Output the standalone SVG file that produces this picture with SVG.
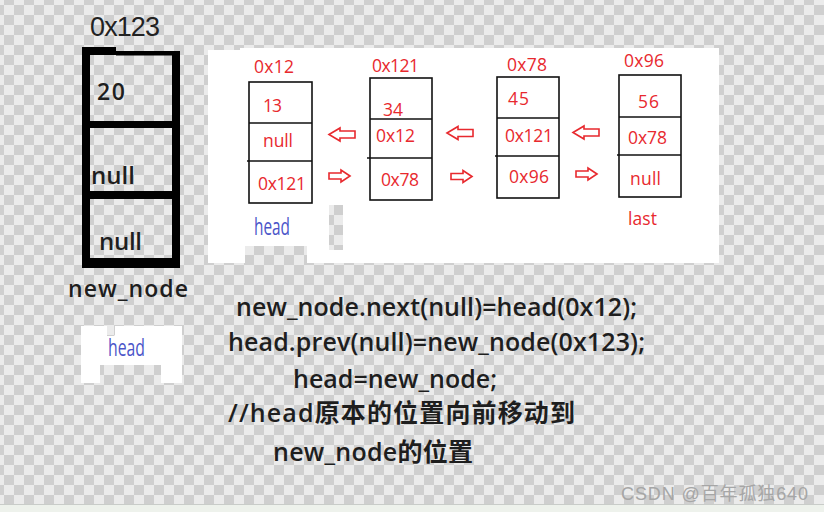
<svg xmlns="http://www.w3.org/2000/svg" width="824" height="512" viewBox="0 0 824 512">
<defs>
<pattern id="checker" x="4" y="5" width="20" height="20" patternUnits="userSpaceOnUse">
<rect width="20" height="20" fill="#ebebeb"/>
<rect x="10" y="0" width="10" height="10" fill="#cfcfcf"/>
<rect x="0" y="10" width="10" height="10" fill="#cfcfcf"/>
</pattern>
<path id="arrL" d="M0,0 L11,-6.5 L11,-3.5 L26,-3.5 L26,3.5 L11,3.5 L11,6.5 Z"/>
<path id="arrR" d="M0,0 L-9,-6 L-9,-3 L-21,-3 L-21,3 L-9,3 L-9,6 Z"/>
</defs>
<style>
.blk{fill:#000}
.box{fill:#fff;stroke:#111;stroke-width:1.6}
.div{stroke:#111;stroke-width:1.6}
.red{fill:#e8292e;font-family:"Open Sans","Noto Sans",sans-serif;font-size:17.5px}
.blue{fill:#4b55c9;font-family:"Open Sans","Noto Sans",sans-serif;font-size:23px}
.dark{fill:#1e1e1e;font-family:"Open Sans","Noto Sans","Noto Sans CJK SC",sans-serif;font-weight:600}
.addr{fill:#222;font-family:"Liberation Sans",sans-serif;font-size:27px}
.code{fill:#1e1e1e;font-family:"Open Sans","Noto Sans CJK SC",sans-serif;font-weight:600;font-size:25px}
.arr{fill:#fff;stroke:#e8292e;stroke-width:1.6;stroke-linejoin:miter}
.wm{fill:#a6a6a6;font-family:"Liberation Sans","Noto Sans CJK SC",sans-serif;font-size:18px}
</style>
<rect width="824" height="512" fill="url(#checker)"/>
<path d="M208,50 H240 V48 H719 V263 H307 V246 H245 V263 H208 Z M329,205 H343 V250 H329 Z" fill="#fff" fill-rule="evenodd"/>
<path d="M81,326 H107 V336 H115 V326 H182 V383 H161 V365 H100 V383 H81 Z" fill="#fff"/>
<rect x="0" y="504" width="824" height="8" fill="#eef2ec"/>
<line x1="0" y1="504.5" x2="824" y2="504.5" stroke="#c9ccc9" stroke-width="1"/>

<g id="new_node">
<text class="addr" x="90" y="36" textLength="70">0x123</text>
<rect class="blk" x="82" y="47" width="8" height="221"/>
<rect class="blk" x="172" y="51" width="8" height="217"/>
<rect class="blk" x="82" y="47" width="34" height="8"/>
<rect class="blk" x="116" y="51" width="64" height="4.5"/>
<rect class="blk" x="82" y="121" width="98" height="7"/>
<rect class="blk" x="82" y="191" width="92" height="8"/>
<rect class="blk" x="82" y="258" width="98" height="10"/>
<text class="dark" x="97" y="100" font-size="23" textLength="28">20</text>
<text class="dark" x="91" y="184" font-size="24" textLength="44">null</text>
<text class="dark" x="99" y="250" font-size="24" textLength="43">null</text>
<text class="dark" x="68" y="297" font-size="23" textLength="120">new_node</text>
</g>

<g id="head_label_left">
<text class="blue" x="108" y="356" textLength="37" lengthAdjust="spacingAndGlyphs">head</text>
</g>

<g id="node_0x12">
<text class="red" x="254" y="73" textLength="40">0x12</text>
<rect class="box" x="249" y="82" width="63" height="121"/>
<line class="div" x1="249" y1="123" x2="312" y2="123"/>
<line class="div" x1="247" y1="161" x2="312" y2="161"/>
<text class="red" x="263" y="112" textLength="19">13</text>
<text class="red" x="263" y="147" textLength="30">null</text>
<text class="red" x="258" y="190" textLength="48">0x121</text>
<text class="blue" x="254" y="235" textLength="36" lengthAdjust="spacingAndGlyphs">head</text>
</g>

<g id="node_0x121">
<text class="red" x="372" y="72" textLength="47">0x121</text>
<rect class="box" x="370" y="78" width="62" height="122"/>
<line class="div" x1="370" y1="119" x2="432" y2="119"/>
<line class="div" x1="367" y1="158" x2="432" y2="158"/>
<text class="red" x="383" y="116" textLength="20">34</text>
<text class="red" x="376" y="142" textLength="39">0x12</text>
<text class="red" x="381" y="186" textLength="38">0x78</text>
</g>

<g id="node_0x78">
<text class="red" x="507" y="71" textLength="40">0x78</text>
<rect class="box" x="497" y="77" width="62" height="121"/>
<line class="div" x1="497" y1="118" x2="559" y2="118"/>
<line class="div" x1="495" y1="156" x2="559" y2="156"/>
<text class="red" x="508" y="105" textLength="21">45</text>
<text class="red" x="505" y="142" textLength="48">0x121</text>
<text class="red" x="509" y="183" textLength="40">0x96</text>
</g>

<g id="node_0x96">
<text class="red" x="624" y="67" textLength="40">0x96</text>
<rect class="box" x="619" y="75" width="62" height="122"/>
<line class="div" x1="619" y1="117" x2="681" y2="117"/>
<line class="div" x1="617" y1="155" x2="681" y2="155"/>
<text class="red" x="638" y="108" textLength="21">56</text>
<text class="red" x="628" y="144" textLength="39">0x78</text>
<text class="red" x="630" y="185" textLength="31">null</text>
<text class="red" x="628" y="225" textLength="29">last</text>
</g>

<g id="connectors">
<use href="#arrL" class="arr" x="329" y="134.5"/>
<use href="#arrR" class="arr" x="350" y="176"/>
<use href="#arrL" class="arr" x="447" y="133"/>
<use href="#arrR" class="arr" x="472" y="176.5"/>
<use href="#arrL" class="arr" x="573" y="132.5"/>
<use href="#arrR" class="arr" x="597" y="174"/>
</g>

<g id="code">
<text class="code" x="236" y="316" textLength="401">new_node.next(null)=head(0x12);</text>
<text class="code" x="228" y="351" textLength="417">head.prev(null)=new_node(0x123);</text>
<text class="code" x="293" y="388" textLength="204">head=new_node;</text>
<text class="code" x="228" y="422" textLength="347">//head原本的位置向前移动到</text>
<text class="code" x="273" y="461" textLength="200">new_node的位置</text>
</g>

<text class="wm" x="621" y="500" textLength="187">CSDN @百年孤独640</text>
</svg>
